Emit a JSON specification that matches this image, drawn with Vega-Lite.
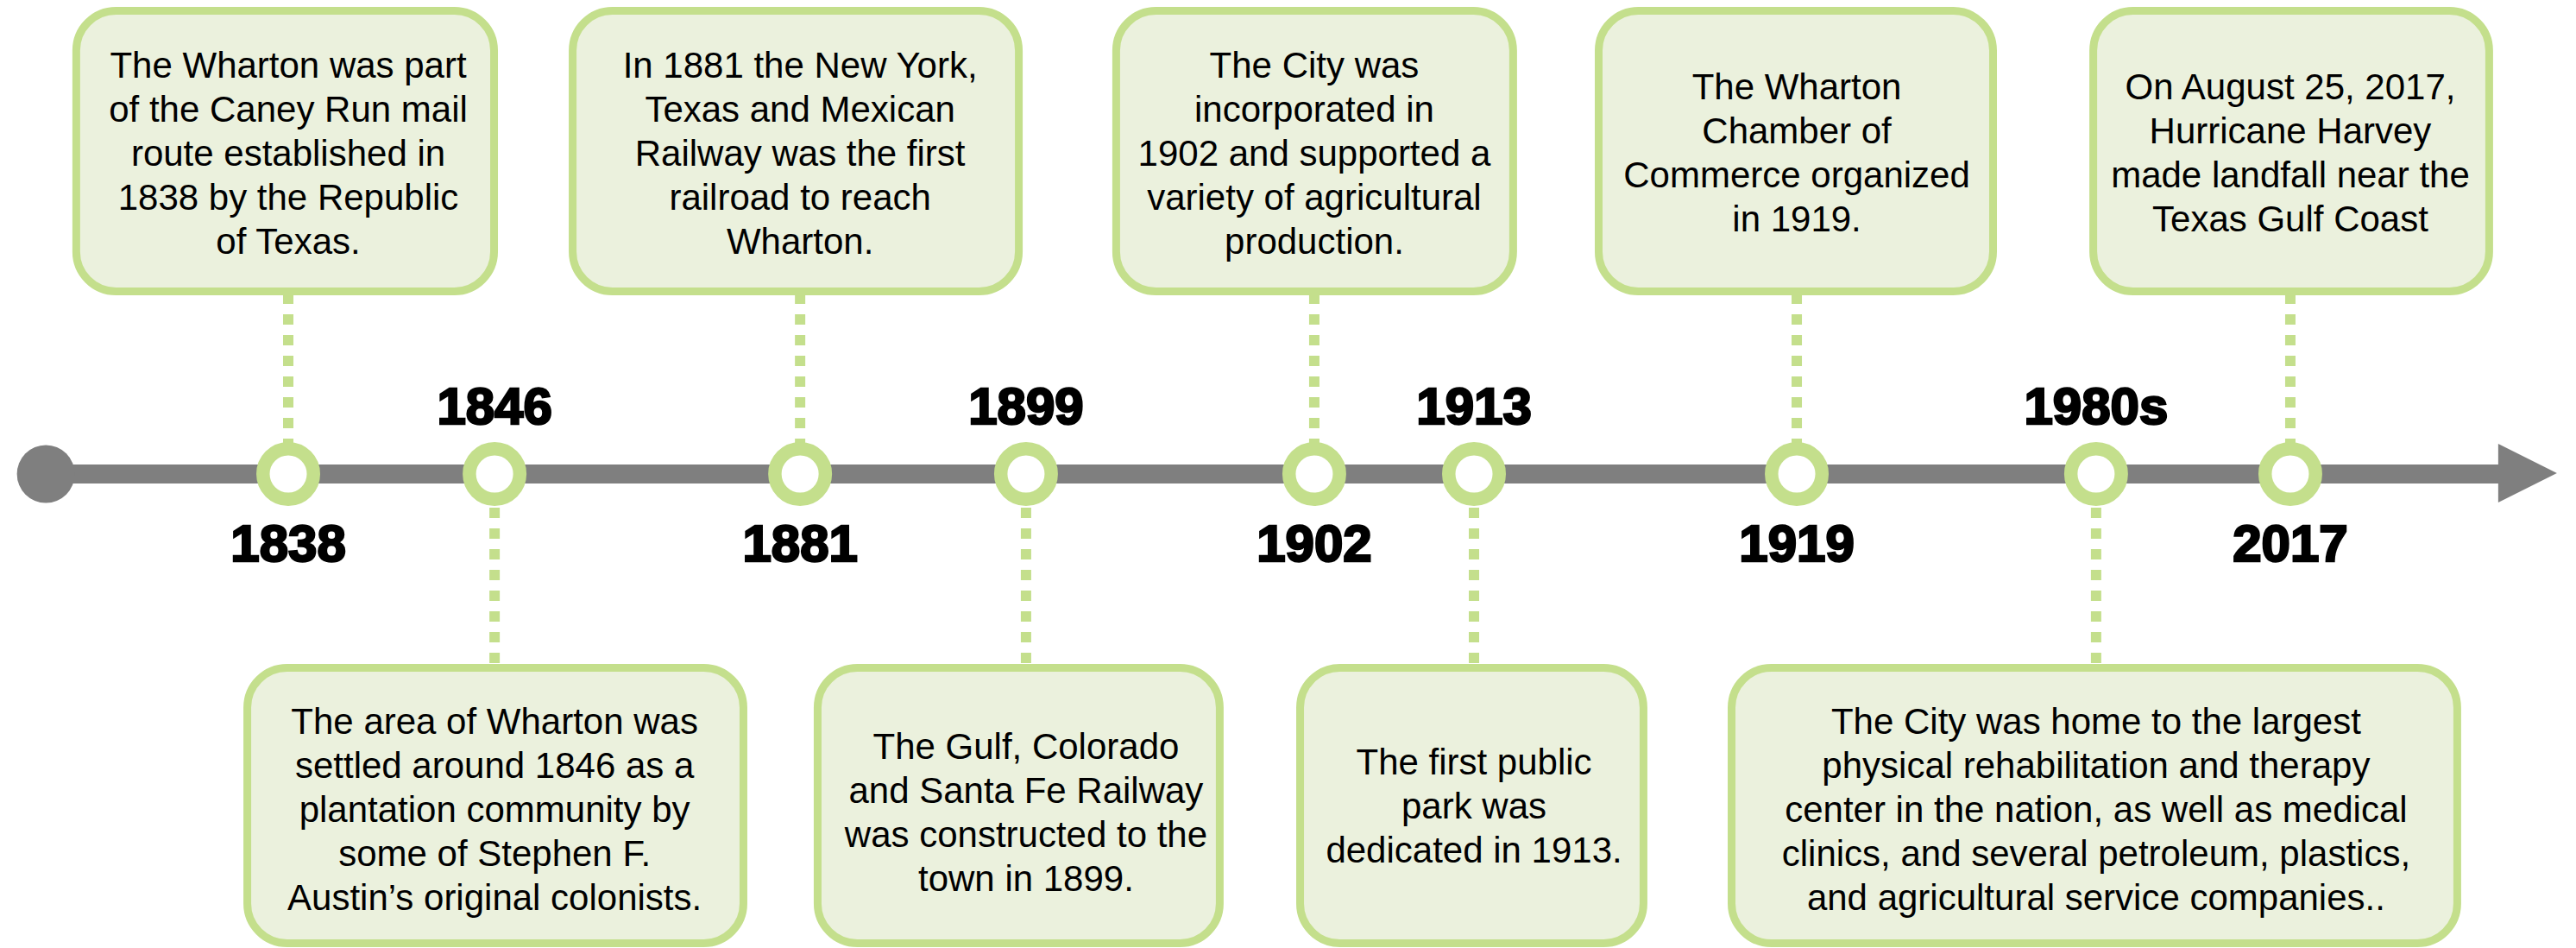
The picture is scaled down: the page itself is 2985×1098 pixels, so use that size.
{
  "$schema": "https://vega.github.io/schema/vega-lite/v6.json",
  "width": 2985,
  "height": 1098,
  "autosize": {"type": "fit", "contains": "padding"},
  "padding": 0,
  "background": "white",
  "config": {"view": {"stroke": null}},
  "datasets": {
    "events": [
      {"year": "1838", "pos": 111.9, "side": "top", "left": 29.6, "right": 191.8, "lines": ["The Wharton was part", "of the Caney Run mail", "route established in", "1838 by the Republic", "of Texas."]},
      {"year": "1846", "pos": 192.0, "side": "bottom", "left": 96.0, "right": 288.6, "lines": ["The area of Wharton was", "settled around 1846 as a", "plantation community by", "some of Stephen F.", "Austin’s original colonists."]},
      {"year": "1881", "pos": 310.6, "side": "top", "left": 222.3, "right": 395.5, "lines": ["In 1881 the New York,", "Texas and Mexican", "Railway was the first", "railroad to reach", "Wharton."]},
      {"year": "1899", "pos": 398.3, "side": "bottom", "left": 317.4, "right": 473.5, "lines": ["The Gulf, Colorado", "and Santa Fe Railway", "was constructed to the", "town in 1899."]},
      {"year": "1902", "pos": 510.2, "side": "top", "left": 433.3, "right": 587.4, "lines": ["The City was", "incorporated in", "1902 and supported a", "variety of agricultural", "production."]},
      {"year": "1913", "pos": 572.2, "side": "bottom", "left": 504.7, "right": 638.0, "lines": ["The first public", "park was", "dedicated in 1913."]},
      {"year": "1919", "pos": 697.5, "side": "top", "left": 620.6, "right": 773.7, "lines": ["The Wharton", "Chamber of", "Commerce organized", "in 1919."]},
      {"year": "1980s", "pos": 813.7, "side": "bottom", "left": 672.2, "right": 953.9, "lines": ["The City was home to the largest", "physical rehabilitation and therapy", "center in the nation, as well as medical", "clinics, and several petroleum, plastics,", "and agricultural service companies.."]},
      {"year": "2017", "pos": 889.1, "side": "top", "left": 812.6, "right": 966.3, "lines": ["On August 25, 2017,", "Hurricane Harvey", "made landfall near the", "Texas Gulf Coast"]}
    ]
  },
  "layer": [
    {
      "data": {"values": [{}]},
      "mark": {"type": "rule", "color": "#7f7f7f", "strokeWidth": 22},
      "encoding": {
        "x": {"datum": 17.8, "type": "quantitative", "scale": {"domain": [0, 1000], "nice": false, "zero": false}, "axis": null},
        "x2": {"datum": 970.2},
        "y": {"datum": 549, "type": "quantitative", "scale": {"domain": [0, 1098], "nice": false, "zero": false, "reverse": true}, "axis": null}
      }
    },
    {
      "data": {"values": [{}]},
      "mark": {"type": "point", "filled": true, "color": "#7f7f7f", "opacity": 1, "size": 4489, "shape": "circle"},
      "encoding": {
        "x": {"datum": 17.8, "type": "quantitative"},
        "y": {"datum": 549, "type": "quantitative"}
      }
    },
    {
      "data": {"values": [{}]},
      "mark": {"type": "point", "filled": true, "color": "#7f7f7f", "opacity": 1, "size": 4624, "shape": "M-1,-1L1,0L-1,1Z"},
      "encoding": {
        "x": {"datum": 981.2, "type": "quantitative"},
        "y": {"datum": 548, "type": "quantitative"}
      }
    },
    {
      "data": {"name": "events"},
      "transform": [{"filter": "datum.side === 'top'"}],
      "mark": {"type": "rule", "color": "#c4df8c", "strokeWidth": 12, "strokeDash": [12, 12]},
      "encoding": {
        "x": {"field": "pos", "type": "quantitative"},
        "y": {"datum": 340, "type": "quantitative"},
        "y2": {"datum": 513}
      }
    },
    {
      "data": {"name": "events"},
      "transform": [{"filter": "datum.side === 'bottom'"}],
      "mark": {"type": "rule", "color": "#c4df8c", "strokeWidth": 12, "strokeDash": [12, 12]},
      "encoding": {
        "x": {"field": "pos", "type": "quantitative"},
        "y": {"datum": 588, "type": "quantitative"},
        "y2": {"datum": 771}
      }
    },
    {
      "data": {"name": "events"},
      "mark": {"type": "point", "filled": false, "fill": "white", "fillOpacity": 1, "stroke": "#c4df8c", "strokeWidth": 15.5, "opacity": 1, "size": 3422, "shape": "circle"},
      "encoding": {
        "x": {"field": "pos", "type": "quantitative"},
        "y": {"datum": 549, "type": "quantitative"}
      }
    },
    {
      "data": {"name": "events"},
      "transform": [{"filter": "datum.side === 'top'"}],
      "mark": {"type": "rect", "fill": "#ebf1dd", "stroke": "#c4df8c", "strokeWidth": 9, "cornerRadius": 46},
      "encoding": {
        "x": {"field": "left", "type": "quantitative"},
        "x2": {"field": "right"},
        "y": {"datum": 12.5, "type": "quantitative"},
        "y2": {"datum": 337.5}
      }
    },
    {
      "data": {"name": "events"},
      "transform": [{"filter": "datum.side === 'bottom'"}],
      "mark": {"type": "rect", "fill": "#ebf1dd", "stroke": "#c4df8c", "strokeWidth": 9, "cornerRadius": 46},
      "encoding": {
        "x": {"field": "left", "type": "quantitative"},
        "x2": {"field": "right"},
        "y": {"datum": 773.5, "type": "quantitative"},
        "y2": {"datum": 1092.5}
      }
    },
    {
      "data": {"name": "events"},
      "transform": [{"filter": "datum.side === 'top' && datum.lines.length === 5"}],
      "mark": {"type": "text", "font": "Liberation Sans", "fontSize": 42, "lineHeight": 51, "align": "center", "baseline": "middle", "color": "black"},
      "encoding": {
        "x": {"field": "pos", "type": "quantitative"},
        "y": {"datum": 77, "type": "quantitative"},
        "text": {"field": "lines", "type": "nominal"}
      }
    },
    {
      "data": {"name": "events"},
      "transform": [{"filter": "datum.side === 'top' && datum.lines.length === 4"}],
      "mark": {"type": "text", "font": "Liberation Sans", "fontSize": 42, "lineHeight": 51, "align": "center", "baseline": "middle", "color": "black"},
      "encoding": {
        "x": {"field": "pos", "type": "quantitative"},
        "y": {"datum": 102, "type": "quantitative"},
        "text": {"field": "lines", "type": "nominal"}
      }
    },
    {
      "data": {"name": "events"},
      "transform": [{"filter": "datum.side === 'bottom' && datum.lines.length === 5"}],
      "mark": {"type": "text", "font": "Liberation Sans", "fontSize": 42, "lineHeight": 51, "align": "center", "baseline": "middle", "color": "black"},
      "encoding": {
        "x": {"field": "pos", "type": "quantitative"},
        "y": {"datum": 837, "type": "quantitative"},
        "text": {"field": "lines", "type": "nominal"}
      }
    },
    {
      "data": {"name": "events"},
      "transform": [{"filter": "datum.side === 'bottom' && datum.lines.length === 4"}],
      "mark": {"type": "text", "font": "Liberation Sans", "fontSize": 42, "lineHeight": 51, "align": "center", "baseline": "middle", "color": "black"},
      "encoding": {
        "x": {"field": "pos", "type": "quantitative"},
        "y": {"datum": 866, "type": "quantitative"},
        "text": {"field": "lines", "type": "nominal"}
      }
    },
    {
      "data": {"name": "events"},
      "transform": [{"filter": "datum.side === 'bottom' && datum.lines.length === 3"}],
      "mark": {"type": "text", "font": "Liberation Sans", "fontSize": 42, "lineHeight": 51, "align": "center", "baseline": "middle", "color": "black"},
      "encoding": {
        "x": {"field": "pos", "type": "quantitative"},
        "y": {"datum": 884, "type": "quantitative"},
        "text": {"field": "lines", "type": "nominal"}
      }
    },
    {
      "data": {"name": "events"},
      "transform": [{"filter": "datum.side === 'top'"}],
      "mark": {"type": "text", "font": "Liberation Sans", "fontSize": 60, "fontWeight": "bold", "align": "center", "baseline": "alphabetic", "color": "black", "stroke": "black", "strokeWidth": 2.5},
      "encoding": {
        "x": {"field": "pos", "type": "quantitative"},
        "y": {"datum": 650, "type": "quantitative"},
        "text": {"field": "year", "type": "nominal"}
      }
    },
    {
      "data": {"name": "events"},
      "transform": [{"filter": "datum.side === 'bottom'"}],
      "mark": {"type": "text", "font": "Liberation Sans", "fontSize": 60, "fontWeight": "bold", "align": "center", "baseline": "alphabetic", "color": "black", "stroke": "black", "strokeWidth": 2.5},
      "encoding": {
        "x": {"field": "pos", "type": "quantitative"},
        "y": {"datum": 491, "type": "quantitative"},
        "text": {"field": "year", "type": "nominal"}
      }
    }
  ]
}
